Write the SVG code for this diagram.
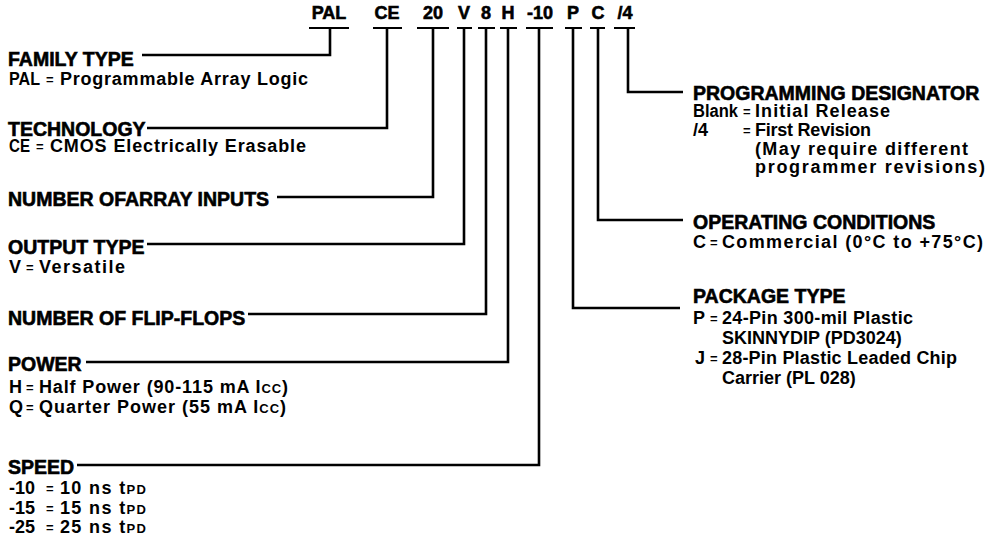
<svg xmlns="http://www.w3.org/2000/svg" width="995" height="555" viewBox="0 0 995 555">
<style>
text{font-family:"Liberation Sans",Arial,sans-serif;fill:#000;font-weight:bold}
.h{font-size:19.5px;stroke:#000;stroke-width:0.6}
.c{font-size:18px;stroke:#000;stroke-width:0.6;text-anchor:middle}
.s{font-size:18px}
.sm{font-size:13px}
.eq{font-size:13px}
.ln{fill:none;stroke:#000;stroke-width:2.6}
.ul{fill:none;stroke:#000;stroke-width:2.2}
</style>
<rect width="995" height="555" fill="#fff"/>
<g id="code">
<text class="c" x="329" y="19">PAL</text>
<text class="c" x="387" y="19">CE</text>
<text class="c" x="433" y="19">20</text>
<text class="c" x="464" y="19">V</text>
<text class="c" x="486" y="19">8</text>
<text class="c" x="508" y="19">H</text>
<text class="c" x="540" y="19">-10</text>
<text class="c" x="573" y="19">P</text>
<text class="c" x="598" y="19">C</text>
<text class="c" x="625" y="19">/4</text>
<path class="ul" d="M309,28H349M373,28H402M417,28H449M457,28H472M478,28H495M500,28H517M526,28H553M565,28H582M590,28H605M614,28H635"/>
</g>
<g id="connectors">
<path class="ln" d="M330,28V55H142"/>
<path class="ln" d="M387,28V128H147"/>
<path class="ln" d="M433,28V197H277"/>
<path class="ln" d="M464,28V244H147"/>
<path class="ln" d="M486,28V314H248"/>
<path class="ln" d="M508,28V362H86"/>
<path class="ln" d="M539,28V465H77"/>
<path class="ln" d="M573,28V308H680"/>
<path class="ln" d="M598,28V220H683"/>
<path class="ln" d="M628,28V92H683"/>
</g>
<g id="family-type">
<text class="h" x="8" y="66">FAMILY TYPE</text>
<text class="s" x="9" y="85" textLength="31" lengthAdjust="spacingAndGlyphs">PAL</text>
<text class="eq" x="46" y="84">=</text>
<text class="s" x="60" y="85" textLength="248" lengthAdjust="spacing">Programmable Array Logic</text>
</g>
<g id="technology">
<text class="h" x="8" y="136">TECHNOLOGY</text>
<text class="s" x="9" y="152" textLength="21" lengthAdjust="spacingAndGlyphs">CE</text>
<text class="eq" x="36" y="151">=</text>
<text class="s" x="50" y="152" textLength="256" lengthAdjust="spacing">CMOS Electrically Erasable</text>
</g>
<g id="array-inputs">
<text class="h" x="8" y="206">NUMBER OFARRAY INPUTS</text>
</g>
<g id="output-type">
<text class="h" x="8" y="254">OUTPUT TYPE</text>
<text class="s" x="9" y="273">V</text>
<text class="eq" x="26" y="272">=</text>
<text class="s" x="39" y="273" textLength="86" lengthAdjust="spacing">Versatile</text>
</g>
<g id="flip-flops">
<text class="h" x="8" y="325">NUMBER OF FLIP-FLOPS</text>
</g>
<g id="power">
<text class="h" x="8" y="371">POWER</text>
<text class="s" x="9" y="393">H</text>
<text class="eq" x="26" y="392">=</text>
<text class="s" x="39" y="393" textLength="249" lengthAdjust="spacing">Half Power (90-115 mA I<tspan class="sm">CC</tspan>)</text>
<text class="s" x="9" y="413">Q</text>
<text class="eq" x="26" y="412">=</text>
<text class="s" x="39" y="413" textLength="247" lengthAdjust="spacing">Quarter Power (55 mA I<tspan class="sm">CC</tspan>)</text>
</g>
<g id="speed">
<text class="h" x="8" y="474">SPEED</text>
<text class="s" x="9" y="494">-10</text>
<text class="eq" x="46" y="493">=</text>
<text class="s" x="60" y="494" textLength="86" lengthAdjust="spacing">10 ns t<tspan class="sm">PD</tspan></text>
<text class="s" x="9" y="514">-15</text>
<text class="eq" x="46" y="513">=</text>
<text class="s" x="60" y="514" textLength="86" lengthAdjust="spacing">15 ns t<tspan class="sm">PD</tspan></text>
<text class="s" x="9" y="533">-25</text>
<text class="eq" x="46" y="532">=</text>
<text class="s" x="60" y="533" textLength="86" lengthAdjust="spacing">25 ns t<tspan class="sm">PD</tspan></text>
</g>
<g id="programming-designator">
<text class="h" x="693" y="100">PROGRAMMING DESIGNATOR</text>
<text class="s" x="693" y="117" textLength="45" lengthAdjust="spacingAndGlyphs">Blank</text>
<text class="eq" x="743" y="116">=</text>
<text class="s" x="755" y="117" textLength="135" lengthAdjust="spacing">Initial Release</text>
<text class="s" x="693" y="136">/4</text>
<text class="eq" x="743" y="135">=</text>
<text class="s" x="755" y="136" textLength="116" lengthAdjust="spacing">First Revision</text>
<text class="s" x="755" y="155" textLength="213" lengthAdjust="spacing">(May require different</text>
<text class="s" x="755" y="173" textLength="230" lengthAdjust="spacing">programmer revisions)</text>
</g>
<g id="operating-conditions">
<text class="h" x="693" y="229">OPERATING CONDITIONS</text>
<text class="s" x="693" y="248">C</text>
<text class="eq" x="710" y="247">=</text>
<text class="s" x="722" y="248" textLength="261" lengthAdjust="spacing">Commercial (0°C to +75°C)</text>
</g>
<g id="package-type">
<text class="h" x="693" y="303">PACKAGE TYPE</text>
<text class="s" x="693" y="324">P</text>
<text class="eq" x="710" y="323">=</text>
<text class="s" x="722" y="324" textLength="191" lengthAdjust="spacing">24-Pin 300-mil Plastic</text>
<text class="s" x="722" y="344">SKINNYDIP (PD3024)</text>
<text class="s" x="695" y="364">J</text>
<text class="eq" x="710" y="363">=</text>
<text class="s" x="722" y="364" textLength="235" lengthAdjust="spacing">28-Pin Plastic Leaded Chip</text>
<text class="s" x="722" y="384">Carrier (PL 028)</text>
</g>
</svg>
